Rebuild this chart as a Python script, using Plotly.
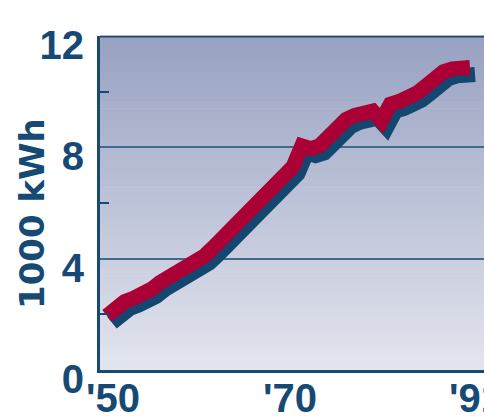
import plotly.graph_objects as go

# ---- data ----
years = list(range(1950, 1992))
kwh = [1.95, 2.25, 2.46, 2.58, 2.70, 2.90, 3.15, 3.33, 3.45, 3.60,
       3.80, 4.10, 4.40, 4.72, 4.90, 5.20, 5.55, 5.95, 6.30, 6.62,
       6.90, 7.30, 8.05, 7.95, 8.05, 8.40, 8.70, 9.00, 9.15, 9.18,
       9.30, 8.95, 9.55, 9.65, 9.75, 9.95, 10.20, 10.55, 10.72, 10.82,
       10.88, 10.87]
y_ticks = [0, 4, 8, 12]
y_minor = [2, 6, 10]
x_ticks = [1950, 1970, 1991]
x_labels = ["'50", "'70", "'91"]
y_title = "1000 kWh"

# ---- style / layout ----
W, H = 484, 416
ML, MR, MT, MB = 100, 0, 36, 46
XR = [1949.21, 1992.58]
YR = [0, 12]
NAVY = "#164a74"
GRID = "#3f6a90"
RED = "#ab0036"
SHADOW = "#13476f"
TOP_BG = (151, 161, 193)
BOT_BG = (227, 229, 238)

pw = W - ML - MR
ph = H - MT - MB
px_per_x = pw / (XR[1] - XR[0])
px_per_y = ph / (YR[1] - YR[0])
sdx, sdy = 5, 7  # shadow offset in pixels

fig = go.Figure()

# shadow (overlay axes shifted by a few pixels)
fig.add_trace(go.Scatter(x=years, y=kwh, mode="lines", xaxis="x2", yaxis="y2",
                         line=dict(color=SHADOW, width=15), hoverinfo="skip",
                         showlegend=False))
# main line
fig.add_trace(go.Scatter(x=years, y=kwh, mode="lines", xaxis="x3", yaxis="y3",
                         line=dict(color=RED, width=15), hoverinfo="skip",
                         showlegend=False))

# gradient background made of thin strips
N = 110
shapes = []
for i in range(N):
    t = (i + 0.5) / N
    c = tuple(round(BOT_BG[k] + (TOP_BG[k] - BOT_BG[k]) * t) for k in range(3))
    shapes.append(dict(type="rect", xref="x domain", yref="y domain",
                       x0=0, x1=1, y0=i / N, y1=(i + 1) / N + 0.002,
                       fillcolor="rgb(%d,%d,%d)" % c, line=dict(width=0),
                       layer="below"))
# top border line
shapes.append(dict(type="line", xref="paper", yref="y", x0=0, x1=1,
                   y0=YR[1], y1=YR[1], line=dict(color=NAVY, width=3),
                   layer="above"))

tick_font = dict(family="Liberation Sans", size=40, color=NAVY, weight="bold")

fig.update_layout(
    width=W, height=H,
    margin=dict(l=ML, r=MR, t=MT, b=MB, pad=0, autoexpand=False),
    paper_bgcolor="white",
    plot_bgcolor="rgba(0,0,0,0)",
    shapes=shapes,
    showlegend=False,
    xaxis=dict(range=XR, tickvals=x_ticks, ticktext=x_labels, showgrid=False,
               zeroline=False, showline=True, linecolor=NAVY, linewidth=3,
               ticks="", tickfont=tick_font, ticklabelshift=6,
               ticklabelstandoff=-9, automargin=False,
               ticklabeloverflow="allow"),
    yaxis=dict(range=YR, tickvals=y_ticks, ticktext=[str(v) for v in y_ticks],
               showgrid=True, gridcolor=GRID, gridwidth=2, zeroline=False,
               showline=True, linecolor=NAVY, linewidth=3, ticks="",
               tickfont=tick_font, ticklabelshift=9, ticklabelstandoff=5,
               automargin=False, ticklabeloverflow="allow",
               minor=dict(tickvals=y_minor, ticks="inside", ticklen=9,
                          tickwidth=2, tickcolor=NAVY, showgrid=False)),
    xaxis2=dict(range=[XR[0] - sdx / px_per_x, XR[1] - sdx / px_per_x],
                overlaying="x", visible=False),
    yaxis2=dict(range=[YR[0] + sdy / px_per_y, YR[1] + sdy / px_per_y],
                overlaying="y", visible=False),
    xaxis3=dict(range=XR, overlaying="x", visible=False),
    yaxis3=dict(range=YR, overlaying="y", visible=False),
    annotations=[dict(text=y_title, textangle=-90, xref="paper", yref="paper",
                      x=(32 - ML) / pw, y=(H - MB - 214) / ph,
                      xanchor="center", yanchor="middle", showarrow=False,
                      font=dict(family="DejaVu Sans", size=34, color=NAVY,
                                weight="bold"))],
)

fig.write_html("out.html")
